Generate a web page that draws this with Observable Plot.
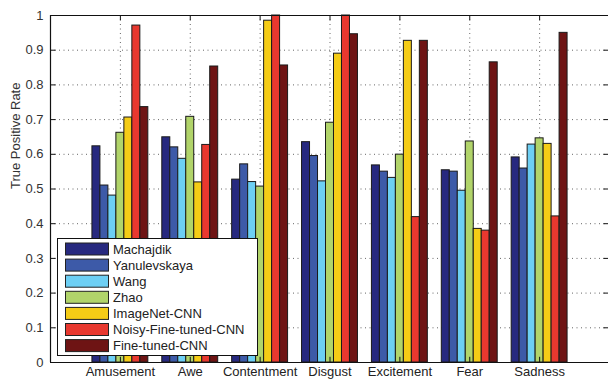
<!DOCTYPE html>
<html>
<head>
<meta charset="utf-8">
<script src="https://cdn.jsdelivr.net/npm/d3@7"></script>
<script src="https://cdn.jsdelivr.net/npm/@observablehq/plot@0.6"></script>
<style>
  html, body { margin: 0; padding: 0; background: #fff; }
  #chart { position: relative; width: 608px; height: 379px; overflow: hidden; }
</style>
</head>
<body>
<div id="chart"></div>
<script>
const categories = ["Amusement", "Awe", "Contentment", "Disgust", "Excitement", "Fear", "Sadness"];
const methods = ["Machajdik", "Yanulevskaya", "Wang", "Zhao", "ImageNet-CNN", "Noisy-Fine-tuned-CNN", "Fine-tuned-CNN"];
const colors = ["#27297f", "#3d5aa8", "#6dcff4", "#b1d46a", "#f5cc16", "#e8382f", "#6e1414"];

const machajdik    = [0.623, 0.649, 0.527, 0.635, 0.568, 0.554, 0.591];
const yanulevskaya = [0.510, 0.620, 0.571, 0.595, 0.550, 0.550, 0.559];
const wang         = [0.481, 0.587, 0.520, 0.522, 0.532, 0.495, 0.628];
const zhao         = [0.662, 0.708, 0.507, 0.691, 0.599, 0.637, 0.646];
const imagenetCNN  = [0.706, 0.519, 0.985, 0.890, 0.927, 0.385, 0.630];
const noisyCNN     = [0.971, 0.627, 1.000, 1.000, 0.419, 0.380, 0.421];
const fineCNN      = [0.736, 0.853, 0.856, 0.946, 0.927, 0.865, 0.950];

const yTicks = [0, 0.1, 0.2, 0.3, 0.4, 0.5, 0.6, 0.7, 0.8, 0.9, 1];

const series = [machajdik, yanulevskaya, wang, zhao, imagenetCNN, noisyCNN, fineCNN];
const groupWidth = 0.8;
const nb = methods.length;
const data = [];
categories.forEach((c, i) => {
  series.forEach((s, j) => {
    const x1 = (i + 1) - groupWidth / 2 + j * groupWidth / nb;
    data.push({category: c, method: methods[j], value: s[i], x1, x2: x1 + groupWidth / nb});
  });
});
const centers = categories.map((c, i) => i + 1);

const font = "'Liberation Sans', Arial, Helvetica, sans-serif";

const chart = Plot.plot({
  width: 608,
  height: 379,
  marginTop: 15,
  marginBottom: 17,
  marginLeft: 50,
  marginRight: 0,
  style: {fontFamily: font, fontSize: "13px", color: "#333", background: "#fff"},
  x: {domain: [0, 8], range: [50, 609]},
  y: {domain: [0, 1]},
  color: {domain: methods, range: colors},
  marks: [
    Plot.gridY(yTicks, {stroke: "#666", strokeOpacity: 1, strokeDasharray: "1,3.5", strokeWidth: 1}),
    Plot.gridX(centers, {stroke: "#666", strokeOpacity: 1, strokeDasharray: "1,3.5", strokeWidth: 1}),
    Plot.rectY(data, {x1: "x1", x2: "x2", y1: 0, y2: "value", fill: "method", stroke: "#1a1a1a", strokeWidth: 1, inset: 0}),
    // inward ticks
    Plot.ruleY(yTicks, {y: d => d, x1: 0, x2: 0.08, stroke: "#111"}),
    Plot.ruleY(yTicks, {y: d => d, x1: 7.92, x2: 8, stroke: "#111"}),
    Plot.ruleX(centers, {x: d => d, y1: 0, y2: 0.015, stroke: "#111"}),
    Plot.ruleX(centers, {x: d => d, y1: 0.985, y2: 1, stroke: "#111"}),
    // frame
    Plot.ruleY([0, 1], {stroke: "#111", strokeWidth: 1.2}),
    Plot.ruleX([0], {stroke: "#111", strokeWidth: 1.2}),
    Plot.axisY(yTicks, {tickSize: 0, tickPadding: 7, tickFormat: d => d3.format("~g")(d), label: null, fontSize: 13, fill: "#333"}),
    Plot.axisX(centers, {tickSize: 0, tickPadding: 4, tickFormat: d => categories[d - 1], label: null, fontSize: 13, fill: "#222"}),
    Plot.text(["True Positive Rate"], {frameAnchor: "left", dx: -35, rotate: -90, fontSize: 13, fill: "#333"})
  ]
});

document.getElementById("chart").appendChild(chart);

// Legend drawn inside the plot area (as in the original)
const svg = d3.select(chart);
const lg = svg.append("g").attr("font-family", font).attr("font-size", 13).attr("text-anchor", "start");
lg.append("rect").attr("x", 57.5).attr("y", 238.5).attr("width", 200).attr("height", 117)
  .attr("fill", "#fff").attr("stroke", "#111").attr("stroke-width", 1);
methods.forEach((m, k) => {
  const cy = 249 + k * 16.1;
  lg.append("rect").attr("x", 65.5).attr("y", cy - 6).attr("width", 43).attr("height", 12)
    .attr("fill", colors[k]).attr("stroke", "#222").attr("stroke-width", 1);
  lg.append("text").attr("x", 113).attr("y", cy).attr("dy", "0.36em").attr("fill", "#222")
    .attr("text-anchor", "start").text(m);
});
</script>
</body>
</html>
